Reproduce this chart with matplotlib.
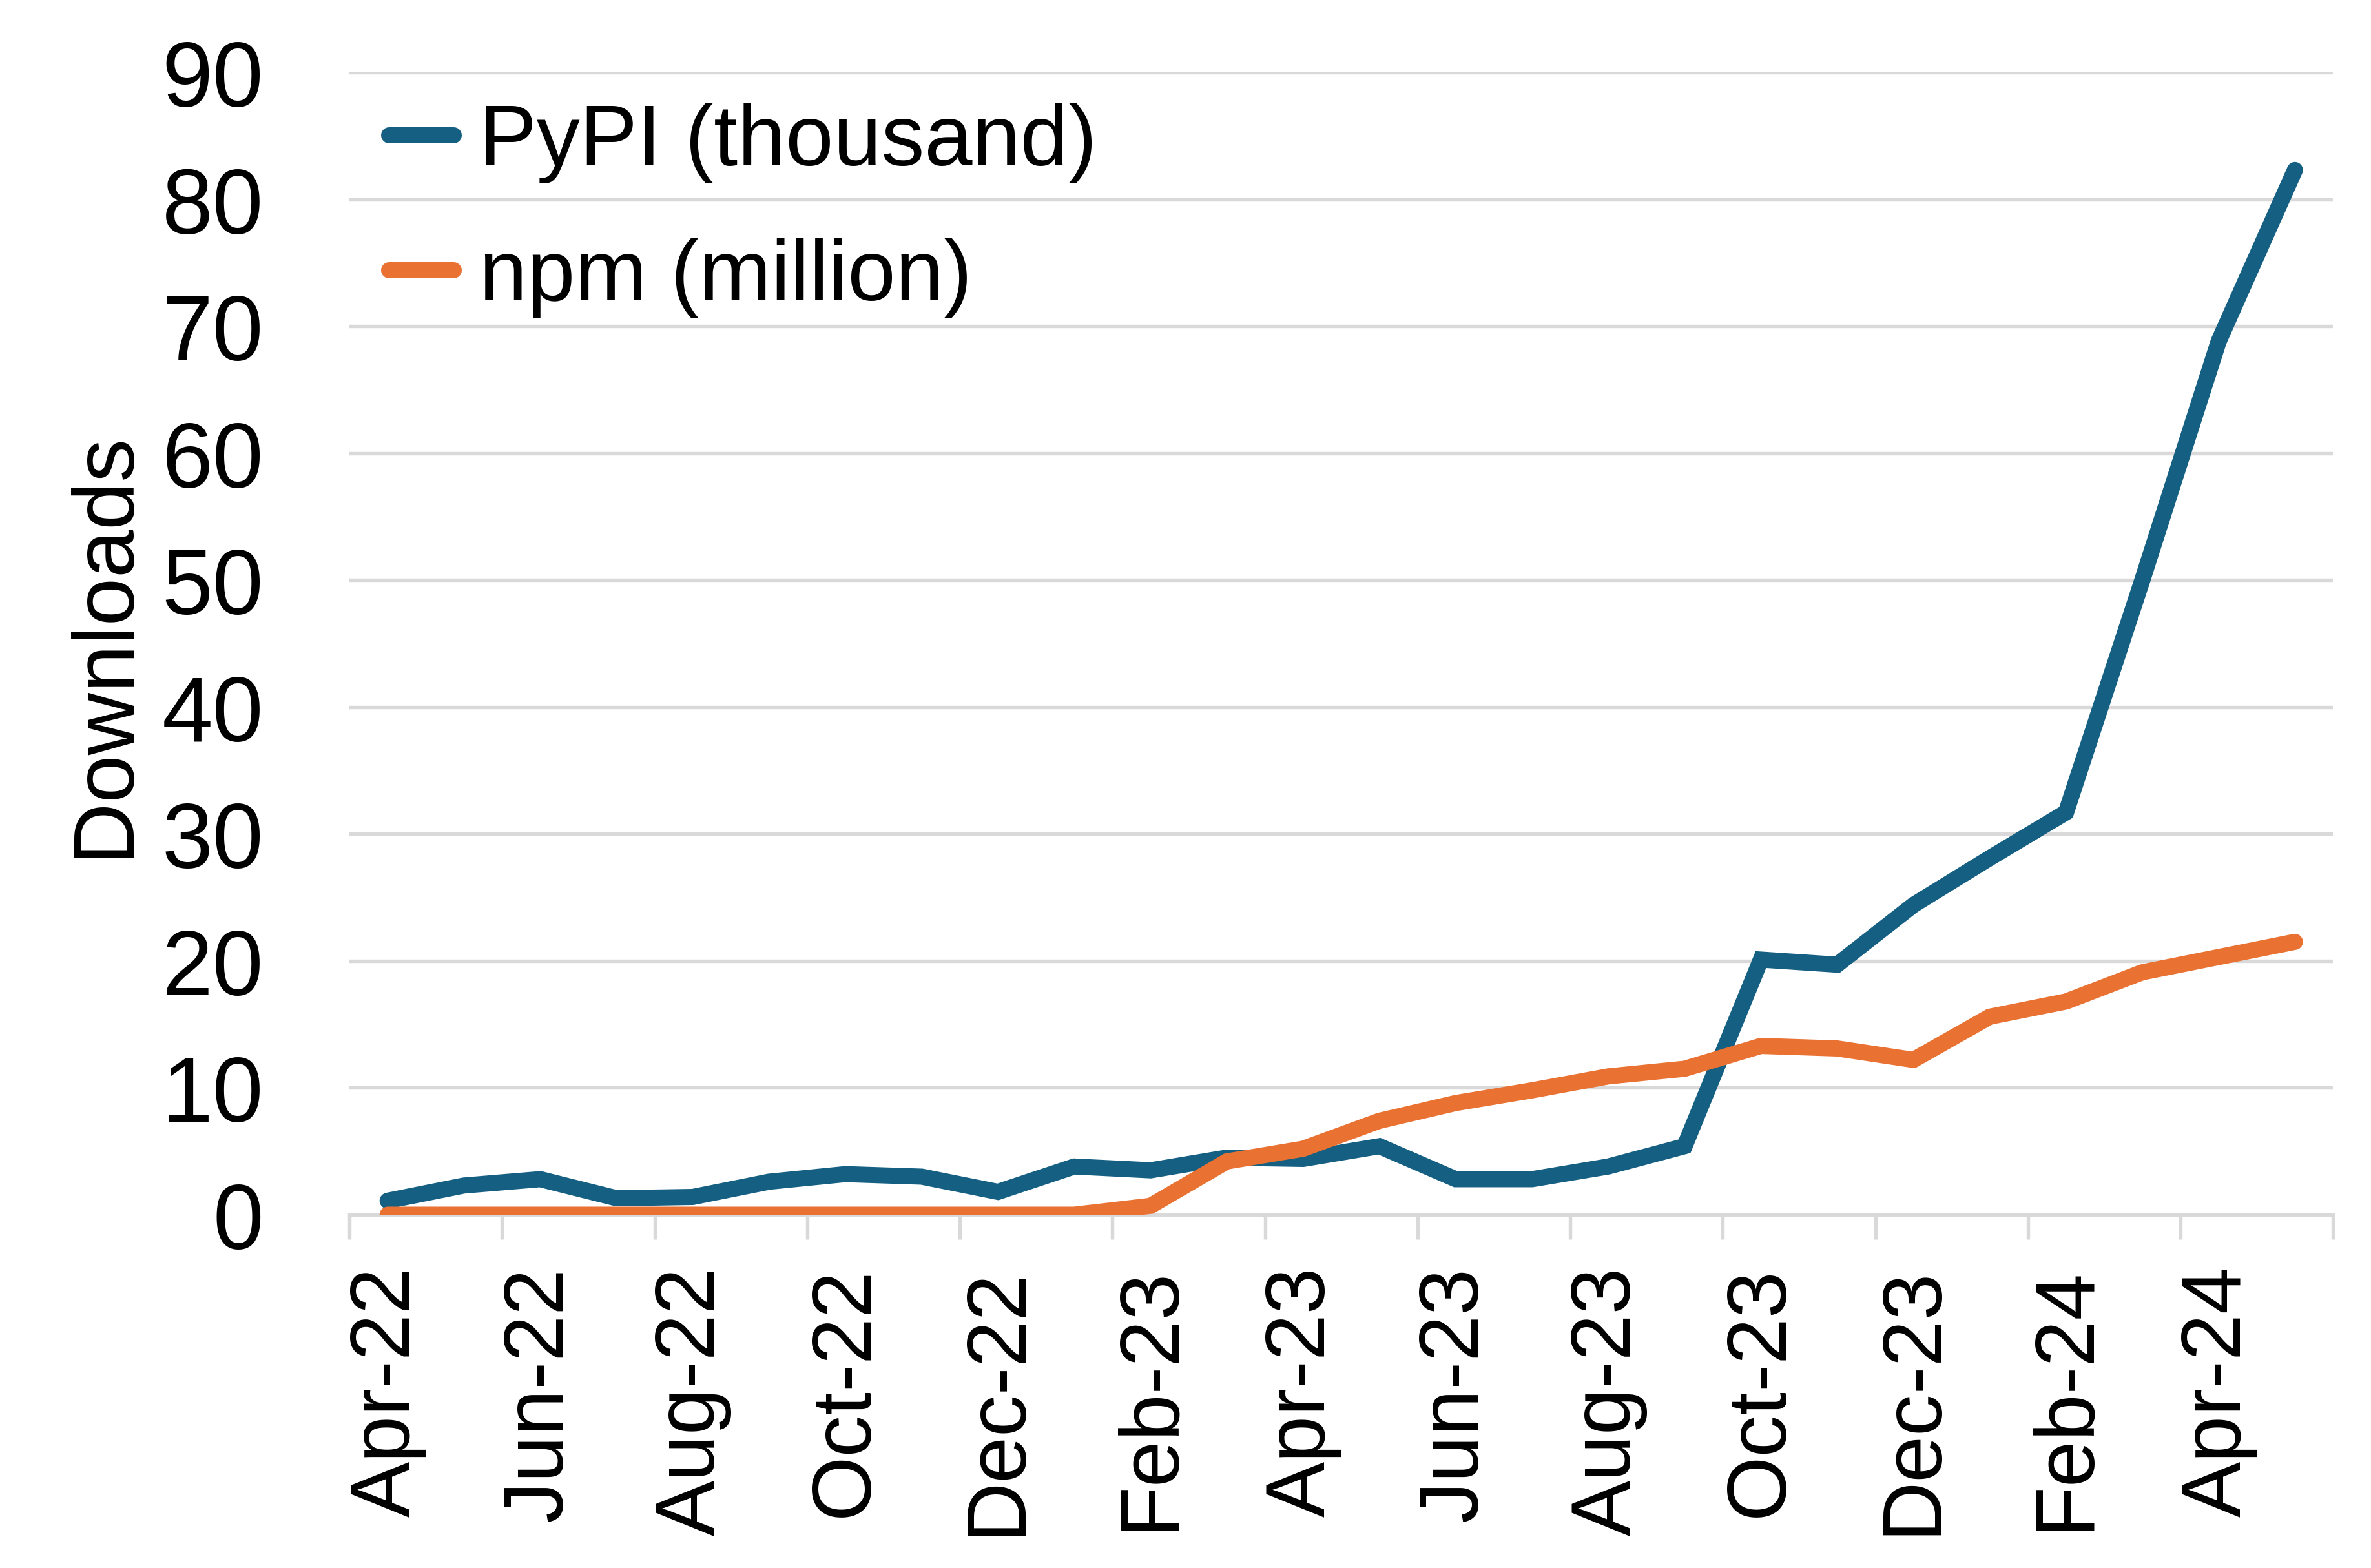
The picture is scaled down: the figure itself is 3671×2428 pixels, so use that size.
import matplotlib
matplotlib.use("Agg")
import matplotlib.pyplot as plt
import numpy as np

# monthly downloads, Apr-22 .. May-24
months = ["Apr-22", "May-22", "Jun-22", "Jul-22", "Aug-22", "Sep-22", "Oct-22",
          "Nov-22", "Dec-22", "Jan-23", "Feb-23", "Mar-23", "Apr-23", "May-23",
          "Jun-23", "Jul-23", "Aug-23", "Sep-23", "Oct-23", "Nov-23", "Dec-23",
          "Jan-24", "Feb-24", "Mar-24", "Apr-24", "May-24"]
pypi_thousand = [1.1, 2.3, 2.8, 1.3, 1.4, 2.6, 3.2, 3.0, 1.8, 3.8, 3.5, 4.5, 4.4,
                 5.4, 2.8, 2.8, 3.8, 5.4, 20.1, 19.7, 24.4, 28.1, 31.7, 50.0,
                 68.8, 82.3]
npm_million = [0.0, 0.0, 0.0, 0.0, 0.0, 0.0, 0.0, 0.0, 0.0, 0.0, 0.7, 4.2, 5.2,
               7.4, 8.8, 9.8, 10.9, 11.5, 13.3, 13.1, 12.2, 15.6, 16.8, 19.1,
               20.3, 21.5]

BLUE = "#156082"
ORANGE = "#E97132"
GRID = "#D9D9D9"

plt.rcParams['font.family'] = ['Liberation Sans', 'DejaVu Sans']

fig = plt.figure(figsize=(3671 / 300, 2429 / 300), dpi=300)
ax = fig.add_axes([0.1474, 0.2252, 0.8366, 0.7283])

x = np.arange(len(months))
ax.plot(x, pypi_thousand, color=BLUE, lw=6, solid_capstyle='round',
        solid_joinstyle='miter', label="PyPI (thousand)", zorder=3)
ax.plot(x, npm_million, color=ORANGE, lw=6, solid_capstyle='round',
        solid_joinstyle='miter', label="npm (million)", zorder=3)

ax.set_xlim(-0.5, len(months) - 0.5)
ax.set_ylim(0, 90)
ax.set_yticks(np.arange(0, 91, 10))
ax.yaxis.grid(True, color=GRID, lw=1.3)
ax.set_axisbelow(True)

for s in ["top", "right", "left"]:
    ax.spines[s].set_visible(False)
ax.spines["bottom"].set_color(GRID)
ax.spines["bottom"].set_linewidth(1.3)

ax.set_xticks(x[::2])
ax.set_xticklabels(months[::2], rotation=90)
ax.set_xticks(np.arange(-0.5, len(months), 2), minor=True)
ax.tick_params(axis="x", which="major", length=0, pad=19, labelsize=31)
ax.tick_params(axis="x", which="minor", length=9, width=1.3, color=GRID)
ax.tick_params(axis="y", length=0, pad=32, labelsize=34)

ax.set_ylabel("Downloads", fontsize=32, labelpad=6)

ax.legend(loc="upper left", bbox_to_anchor=(-0.015, 1.034), frameon=False,
          fontsize=32, handlelength=0.75, handletextpad=0.3, labelspacing=0.63,
          borderaxespad=0.4)

fig.savefig("out.png", dpi=300)
